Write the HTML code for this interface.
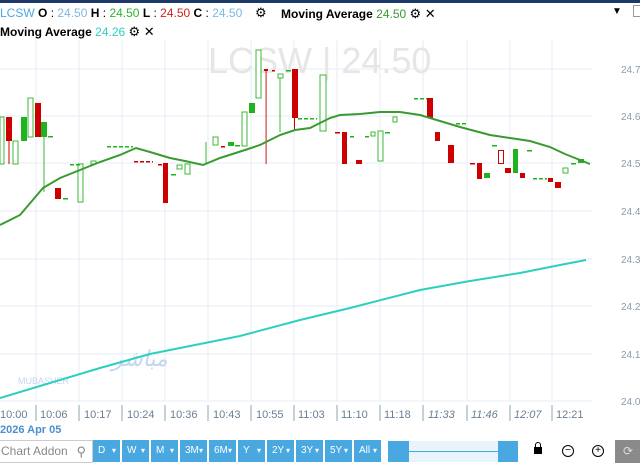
<!DOCTYPE html>
<html><head><meta charset="utf-8"><style>
body{margin:0;width:640px;height:465px;overflow:hidden;background:#fff;font-family:"Liberation Sans",sans-serif;position:relative}
.t{position:absolute;font-size:12px;white-space:nowrap}
.btn{position:absolute;top:440px;height:22px;width:27px;background:#4aa8e0;color:#fff;font-size:10px;line-height:22px;text-indent:5px}
.btn:after{content:"▾";position:absolute;right:4px;font-size:8px}
</style></head><body>
<div style="position:absolute;left:0;top:0;width:640px;height:3px;background:#1d3a6b"></div>
<svg width="640" height="465" style="position:absolute;left:0;top:0">
<g stroke="#e6eef4" stroke-width="1">
<line x1="0" y1="69" x2="592" y2="69"/><line x1="0" y1="116" x2="592" y2="116"/><line x1="0" y1="163" x2="592" y2="163"/><line x1="0" y1="211" x2="592" y2="211"/><line x1="0" y1="259" x2="592" y2="259"/><line x1="0" y1="306" x2="592" y2="306"/><line x1="0" y1="354" x2="592" y2="354"/><line x1="0" y1="401" x2="592" y2="401"/>
<line x1="36" y1="40" x2="36" y2="401"/><line x1="79" y1="40" x2="79" y2="401"/><line x1="122" y1="40" x2="122" y2="401"/><line x1="165" y1="40" x2="165" y2="401"/><line x1="208" y1="40" x2="208" y2="401"/><line x1="251" y1="40" x2="251" y2="401"/><line x1="294" y1="40" x2="294" y2="401"/><line x1="337" y1="40" x2="337" y2="401"/><line x1="380" y1="40" x2="380" y2="401"/><line x1="423" y1="40" x2="423" y2="401"/><line x1="467" y1="40" x2="467" y2="401"/><line x1="510" y1="40" x2="510" y2="401"/><line x1="552" y1="40" x2="552" y2="401"/>
</g>
<text x="208" y="73" font-size="36" fill="#e6e6e6" font-family="Liberation Sans">LCSW  |  24.50</text>
<text x="112" y="366" font-size="22" fill="#c5d6ef" font-style="italic" font-family="Liberation Sans">مباشر</text>
<text x="18" y="384" font-size="9" fill="#c5d6ef" font-family="Liberation Sans">MUBASHER</text>
<g fill="#8b9bb0" font-size="10" font-family="Liberation Sans">
<text x="621" y="73">24.7</text><text x="621" y="120">24.6</text><text x="621" y="167">24.5</text><text x="621" y="215">24.4</text><text x="621" y="263">24.3</text><text x="621" y="310">24.2</text><text x="621" y="358">24.1</text><text x="621" y="405">24.0</text>
</g>
<g stroke="#3bb835" stroke-width="1" fill="#fff">
<rect x="0" y="117" width="4" height="47"/><rect x="13" y="141" width="5" height="23"/><rect x="28" y="98" width="5" height="39"/><rect x="78" y="164" width="5" height="38"/><rect x="91" y="161" width="5" height="3"/><rect x="177" y="165" width="5" height="4"/><rect x="185" y="164" width="5" height="10"/><rect x="213" y="137" width="5" height="8"/><rect x="242" y="112" width="5" height="34"/><rect x="256" y="50" width="5" height="48"/><rect x="278" y="74" width="5" height="4"/><rect x="320" y="75" width="6" height="56"/><rect x="371" y="132" width="4" height="4"/><rect x="378" y="131" width="5" height="30"/><rect x="393" y="117" width="4" height="5"/><rect x="563" y="168" width="5" height="5"/>
<line x1="44" y1="137" x2="44" y2="192"/><line x1="206" y1="142" x2="206" y2="164"/><line x1="280" y1="78" x2="280" y2="132"/>
</g>
<g fill="#1fb31f">
<rect x="21" y="117" width="6" height="24"/><rect x="41" y="122" width="6" height="15"/><rect x="228" y="142" width="6" height="4"/><rect x="249" y="103" width="6" height="10"/><rect x="484" y="173" width="6" height="5"/><rect x="513" y="149" width="5" height="24"/><rect x="578" y="159" width="6" height="4"/>
<rect x="48" y="136" width="5" height="1.5"/><rect x="63" y="198" width="5" height="1.5"/><rect x="171" y="174" width="5" height="1.5"/><rect x="235" y="145" width="5" height="1.5"/><rect x="286" y="70" width="5" height="1.5"/><rect x="350" y="136" width="4" height="1.5"/><rect x="365" y="136" width="4" height="1.5"/><rect x="385" y="132" width="5" height="1.5"/><rect x="492" y="145" width="5" height="1.5"/><rect x="527" y="150" width="5" height="1.5"/><rect x="571" y="163" width="5" height="1.5"/>
</g>
<g stroke="#1fb31f" stroke-width="1.5" stroke-dasharray="4,2">
<line x1="70" y1="164.7" x2="80" y2="164.7"/><line x1="107" y1="146.7" x2="133" y2="146.7"/><line x1="298" y1="118.7" x2="317" y2="118.7"/><line x1="414" y1="98.7" x2="427" y2="98.7"/><line x1="456" y1="123.7" x2="468" y2="123.7"/><line x1="533" y1="178.7" x2="547" y2="178.7"/>
</g>
<g fill="#cc0000">
<rect x="6" y="117" width="6" height="24"/><rect x="8.5" y="141" width="1" height="23"/><rect x="35" y="103" width="6" height="34"/><rect x="55" y="188" width="6" height="11"/><rect x="163" y="163" width="5" height="40"/><rect x="265.5" y="69" width="1.2" height="95" fill="#d04040"/><rect x="264" y="69" width="4" height="2"/><rect x="292" y="69" width="6" height="49"/><rect x="294" y="118" width="1" height="12"/><rect x="342" y="132" width="5" height="32"/><rect x="356" y="160" width="6" height="4"/><rect x="427" y="98" width="6" height="20"/><rect x="435" y="132" width="5" height="9"/><rect x="448" y="145" width="6" height="18"/><rect x="477" y="163" width="5" height="16"/><rect x="505" y="168" width="6" height="5"/><rect x="520" y="173" width="5" height="5"/><rect x="548" y="178" width="5" height="4"/><rect x="555" y="182" width="6" height="6"/>
<rect x="158" y="164" width="4" height="1.5"/><rect x="221" y="146" width="4" height="1.5"/><rect x="272" y="70" width="3" height="1.5"/><rect x="335" y="132" width="5" height="1.5"/><rect x="470" y="163" width="5" height="1.5"/>
</g>
<line x1="134" y1="161.7" x2="153" y2="161.7" stroke="#cc0000" stroke-width="1.5" stroke-dasharray="4,2"/>
<rect x="498.5" y="150.5" width="5" height="13" fill="#fff" stroke="#cc0000"/>
<polyline fill="none" stroke="#3a9a30" stroke-width="2" points="0,225 20,215 43,188 60,178 80,170 100,162 120,155 136,148 150,152 170,158 185,161 203,165 220,158 245,150 260,145 280,135 295,130 310,128 330,118 340,115 360,114 380,112 400,112 420,115 440,121 460,127 475,131 490,135 510,138 530,141 550,147 565,154 580,160 590,164"/>
<polyline fill="none" stroke="#2dcfc0" stroke-width="2" points="0,398 50,383 100,368 150,354 200,344 240,336 300,320 350,308 420,290 470,281 520,273 560,265 586,260"/>
<g stroke="#8aa" stroke-width="1"><line x1="36" y1="405" x2="36" y2="421"/><line x1="79" y1="405" x2="79" y2="421"/><line x1="122" y1="405" x2="122" y2="421"/><line x1="165" y1="405" x2="165" y2="421"/><line x1="208" y1="405" x2="208" y2="421"/><line x1="251" y1="405" x2="251" y2="421"/><line x1="294" y1="405" x2="294" y2="421"/><line x1="337" y1="405" x2="337" y2="421"/><line x1="380" y1="405" x2="380" y2="421"/><line x1="423" y1="405" x2="423" y2="421"/><line x1="467" y1="405" x2="467" y2="421"/><line x1="510" y1="405" x2="510" y2="421"/><line x1="552" y1="405" x2="552" y2="421"/></g>
<g fill="#6a7f95" font-size="11" font-family="Liberation Sans">
<text x="0" y="418">10:00</text><text x="40" y="418">10:06</text><text x="84" y="418">10:17</text><text x="127" y="418">10:24</text><text x="170" y="418">10:36</text><text x="213" y="418">10:43</text><text x="256" y="418">10:55</text><text x="298" y="418">11:03</text><text x="341" y="418">11:10</text><text x="384" y="418">11:18</text><text x="428" y="418" font-style="italic">11:33</text><text x="471" y="418" font-style="italic">11:46</text><text x="514" y="418" font-style="italic">12:07</text><text x="556" y="418">12:21</text>
</g>
</svg>
<div class="t" style="left:0;top:6px"><span style="color:#4aa8e0">LCSW</span> <b>O</b> : <span style="color:#7fb8e0">24.50</span> <b>H</b> : <span style="color:#2bb52b">24.50</span> <b>L</b> : <span style="color:#d02020">24.50</span> <b>C</b> : <span style="color:#7fb8e0">24.50</span></div>
<div class="t" style="left:255px;top:5px;font-size:13px">⚙</div>
<div class="t" style="left:281px;top:6px"><b>Moving Average</b> <span style="color:#3a9a30">24.50</span> <span style="font-size:13px">⚙ ✕</span></div>
<div class="t" style="left:0;top:24px"><b>Moving Average</b> <span style="color:#2dcfc0">24.26</span> <span style="font-size:13px">⚙ ✕</span></div>
<div class="t" style="left:612px;top:6px;font-size:10px">▼</div>
<div style="position:absolute;left:633px;top:5px;width:8px;height:10px;border:1px solid #999"></div>
<div class="t" style="left:0;top:424px;color:#4a8fd0;font-weight:bold;font-size:11px">2026 Apr 05</div>
<div style="position:absolute;left:-2px;top:440px;width:91px;height:21px;border:1px solid #ccc;color:#888;font-size:12px;line-height:21px;padding-left:2px">Chart Addon <span style="position:absolute;right:6px;font-size:13px">&#9906;</span></div>
<div class="btn" style="left:93px">D</div><div class="btn" style="left:122px">W</div><div class="btn" style="left:151px">M</div><div class="btn" style="left:180px">3M</div><div class="btn" style="left:209px">6M</div><div class="btn" style="left:238px">Y</div><div class="btn" style="left:267px">2Y</div><div class="btn" style="left:296px">3Y</div><div class="btn" style="left:325px">5Y</div><div class="btn" style="left:354px">All</div>
<div style="position:absolute;left:388px;top:441px;width:130px;height:21px;background:#e8f3fb"></div>
<div style="position:absolute;left:400px;top:451px;width:100px;height:1px;background:#4aa8e0"></div>
<div style="position:absolute;left:388px;top:441px;width:21px;height:21px;background:#4aa8e0"></div>
<div style="position:absolute;left:498px;top:441px;width:20px;height:21px;background:#4aa8e0"></div>
<div style="position:absolute;left:534px;top:447px;width:8px;height:7px;background:#000"></div>
<div style="position:absolute;left:535px;top:442px;width:4px;height:5px;border:1px solid #000;border-bottom:none;border-radius:3px 3px 0 0"></div>
<div style="position:absolute;left:562px;top:445px;width:10px;height:10px;border:1px solid #000;border-radius:50%;font-size:10px;line-height:10px;text-align:center">−</div>
<div style="position:absolute;left:592px;top:445px;width:10px;height:10px;border:1px solid #000;border-radius:50%;font-size:10px;line-height:10px;text-align:center">+</div>
<div style="position:absolute;left:615px;top:440px;width:25px;height:23px;background:#8a8a8a;color:#ddd;font-size:12px;line-height:23px;text-indent:8px">⟳</div>
</body></html>
